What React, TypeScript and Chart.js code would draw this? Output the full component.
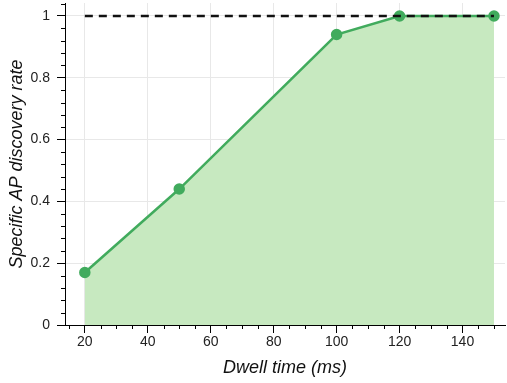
import React, { useEffect, useRef } from "react";
import { Chart, registerables } from "chart.js";

Chart.register(...registerables);

const dwellTimes = [20, 50, 100, 120, 150];
const discoveryRates = [0.17, 0.44, 0.94, 1.0, 1.0];
const referenceX = [20, 150];
const referenceY = [1, 1];
const xTickValues = [20, 40, 60, 80, 100, 120, 140];
const yTickValues = [0, 0.2, 0.4, 0.6, 0.8, 1];
const yTickLabels = ["0", "0.2", "0.4", "0.6", "0.8", "1"];
const xMinorStep = 5;
const yMinorStep = 0.04;

const FONT = "'Liberation Sans', Arial, Helvetica, sans-serif";

const minorTicks = {
  id: "minorTicks",
  afterDraw(chart: any) {
    const ctx = chart.ctx;
    const xs = chart.scales.x;
    const ys = chart.scales.y;
    ctx.save();
    ctx.strokeStyle = "#000";
    ctx.lineWidth = 1;
    ctx.beginPath();
    for (let i = 0; i * xMinorStep <= xs.max; i++) {
      const v = i * xMinorStep;
      if (v < xs.min || v % 20 === 0) continue;
      const px = Math.round(xs.getPixelForValue(v)) + 0.5;
      ctx.moveTo(px, ys.bottom);
      ctx.lineTo(px, ys.bottom + 4);
    }
    for (let i = 0; i * yMinorStep <= ys.max + 1e-9; i++) {
      if (i % 5 === 0) continue;
      const v = i * yMinorStep;
      const py = Math.round(ys.getPixelForValue(v)) + 0.5;
      ctx.moveTo(xs.left, py);
      ctx.lineTo(xs.left - 4, py);
    }
    ctx.stroke();
    ctx.restore();
  },
};

const zeroPad = (s: any) => {
  s.paddingTop = 0;
  s.paddingBottom = 0;
  s.paddingLeft = 0;
  s.paddingRight = 0;
};

export default function App() {
  const ref = useRef<HTMLCanvasElement>(null);
  useEffect(() => {
    if (!ref.current) return;
    const chart = new Chart(ref.current, {
      type: "line",
      data: {
        datasets: [
          {
            data: referenceX.map((x, i) => ({ x, y: referenceY[i] })),
            borderColor: "#111",
            borderWidth: 2.5,
            borderDash: [8, 6],
            pointRadius: 0,
            fill: false,
          },
          {
            data: dwellTimes.map((x, i) => ({ x, y: discoveryRates[i] })),
            borderColor: "#41ab5d",
            backgroundColor: "#c7e9c0",
            borderWidth: 2.5,
            pointRadius: 4.5,
            pointBackgroundColor: "#41ab5d",
            pointBorderColor: "#41ab5d",
            fill: "origin",
            tension: 0,
          },
        ],
      },
      options: {
        responsive: false,
        animation: false,
        devicePixelRatio: 1,
        layout: { autoPadding: false, padding: { top: 3, right: 2, left: 0, bottom: 0 } },
        plugins: { legend: { display: false }, tooltip: { enabled: false } },
        scales: {
          x: {
            type: "linear",
            min: 13.7,
            max: 153.5,
            afterBuildTicks: (s: any) => {
              s.ticks = xTickValues.map((v) => ({ value: v }));
            },
            afterFit: (s: any) => {
              s.height = 58;
              zeroPad(s);
            },
            grid: { color: "#e8e8e8", tickColor: "#000", tickLength: 8, lineWidth: 1 },
            border: { color: "#000", width: 1 },
            ticks: {
              font: { family: FONT, size: 14 },
              color: "#222",
              padding: 1,
              maxRotation: 0,
              callback: (v: any) => String(v),
            },
            title: {
              display: true,
              text: "Dwell time (ms)",
              font: { family: FONT, size: 18, style: "italic" },
              color: "#111",
              padding: { top: 0, bottom: 4 },
            },
          },
          y: {
            type: "linear",
            min: 0,
            max: 1.042,
            afterBuildTicks: (s: any) => {
              s.ticks = yTickValues.map((v) => ({ value: v }));
            },
            afterFit: (s: any) => {
              s.width = 65;
              zeroPad(s);
            },
            grid: { color: "#e8e8e8", tickColor: "#000", tickLength: 8, lineWidth: 1 },
            border: { color: "#000", width: 1 },
            ticks: {
              font: { family: FONT, size: 14 },
              color: "#222",
              padding: 7,
              callback: (_v: any, i: number) => yTickLabels[i],
            },
            title: {
              display: true,
              text: "Specific AP discovery rate",
              font: { family: FONT, size: 18, style: "italic" },
              color: "#111",
              padding: { top: 6, bottom: 0 },
            },
          },
        },
      },
      plugins: [minorTicks],
    });
    return () => chart.destroy();
  }, []);
  return (
    <div style={{ position: "absolute", left: 0, top: 0, width: 507, height: 383, background: "#fff" }}>
      <canvas ref={ref} width={507} height={383} />
    </div>
  );
}
